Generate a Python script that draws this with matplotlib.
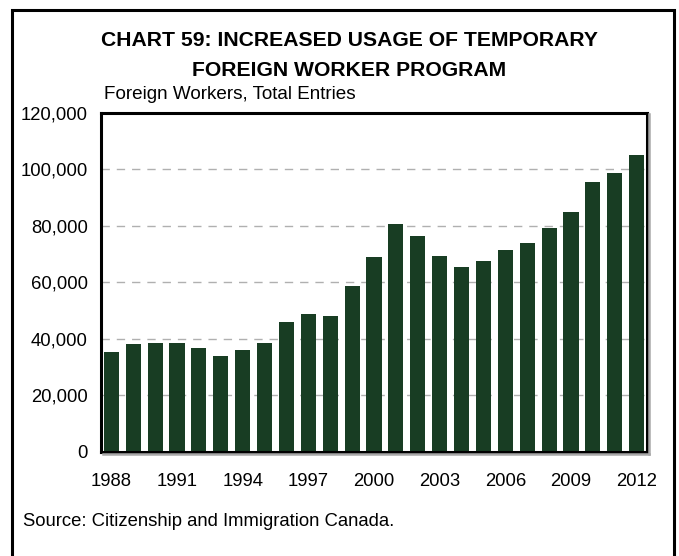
import matplotlib
matplotlib.use("Agg")
import matplotlib.pyplot as plt
from matplotlib.patches import Rectangle
from matplotlib.lines import Line2D
from matplotlib.ticker import FuncFormatter

plt.rcParams['font.family'] = ['Liberation Sans', 'DejaVu Sans']

years = list(range(1988, 2013))
entries = [35200, 38000, 38700, 38400, 36600, 34100, 35900, 38400, 46100, 48900,
           47900, 58500, 69000, 80600, 76400, 69400, 65500, 67600, 71400, 73900,
           79300, 84900, 95500, 98700, 105000]
tick_years = [1988, 1991, 1994, 1997, 2000, 2003, 2006, 2009, 2012]
y_ticks = [0, 20000, 40000, 60000, 80000, 100000, 120000]

W, H = 679, 556
fig = plt.figure(figsize=(W / 100, H / 100), dpi=100)

def fx(px):
    return px / W

def fy(py):
    return 1 - py / H

# outer border
fig.patches.append(Rectangle((fx(12), -0.01), fx(674 - 12), fy(10) + 0.01,
                             transform=fig.transFigure, fill=False,
                             edgecolor='black', linewidth=2.2))

left, right, top, bottom = 101, 647, 112.5, 452
ax = fig.add_axes([fx(left), fy(bottom), fx(right - left), (bottom - top) / H])

# shadow of plot frame (right and bottom)
fig.lines.append(Line2D([fx(right + 2), fx(right + 2)], [fy(top + 2), fy(bottom + 2)],
                        transform=fig.transFigure, color='#a8a8a8', linewidth=1.8))
fig.lines.append(Line2D([fx(left + 2), fx(right + 2)], [fy(bottom + 2), fy(bottom + 2)],
                        transform=fig.transFigure, color='#a8a8a8', linewidth=1.8))

x = list(range(len(years)))
ax.bar(x, entries, width=0.69, color='#183d23', zorder=3)
ax.set_xlim(-0.47, len(years) - 1 + 0.47)
ax.set_ylim(0, 120000)
ax.set_yticks(y_ticks)
ax.yaxis.set_major_formatter(FuncFormatter(lambda v, p: f"{int(v):,}"))
ax.set_xticks([years.index(y) for y in tick_years])
ax.set_xticklabels([str(y) for y in tick_years])
ax.tick_params(axis='both', length=0, labelsize=13.3)
ax.tick_params(axis='y', pad=9.5)
ax.tick_params(axis='x', pad=15)
for yv in y_ticks[1:-1]:
    ax.axhline(yv, color='#b0b0b0', linewidth=1, dashes=(6, 5), zorder=1)
for s in ax.spines.values():
    s.set_linewidth(2.2)
    s.set_color('black')
    s.set_zorder(5)

fig.text(0.5 + fx(10), fy(41), "CHART 59: INCREASED USAGE OF TEMPORARY",
         ha='center', va='center', fontsize=15.2, fontweight='bold')
fig.text(0.5 + fx(10), fy(71), "FOREIGN WORKER PROGRAM",
         ha='center', va='center', fontsize=15.2, fontweight='bold')
fig.text(fx(104), fy(94), "Foreign Workers, Total Entries",
         ha='left', va='center', fontsize=13.6)
fig.text(fx(23), fy(522), "Source: Citizenship and Immigration Canada.",
         ha='left', va='center', fontsize=13.3)

fig.savefig("out.png", dpi=100)
